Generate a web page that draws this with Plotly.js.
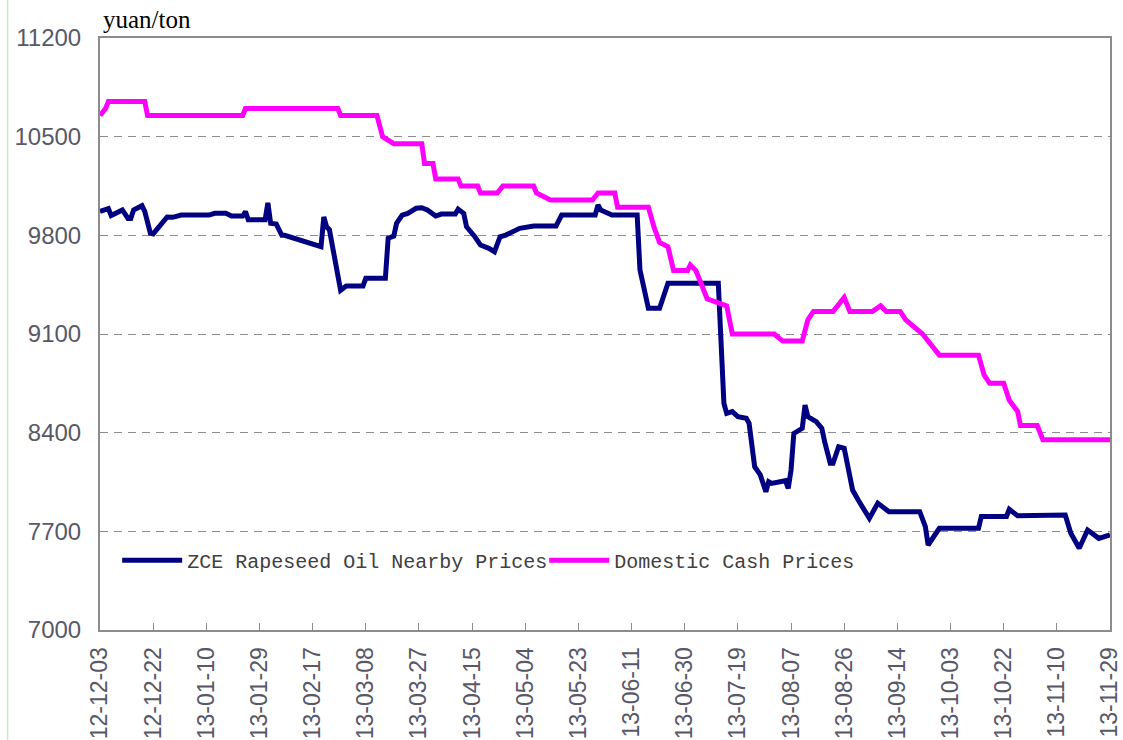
<!DOCTYPE html>
<html>
<head>
<meta charset="utf-8">
<script src="https://cdn.plot.ly/plotly-3.0.1.min.js"></script>
<style>
  html, body { margin: 0; padding: 0; background: #ffffff; }
  #chart { width: 1123px; height: 740px; }
</style>
</head>
<body>
<div id="chart"></div>
<script>
// ZCE Rapeseed Oil Nearby Prices (yuan/ton)
var zceDates = [
  '2012-12-03','2012-12-06','2012-12-07','2012-12-11','2012-12-13','2012-12-14','2012-12-15','2012-12-18','2012-12-19',
  '2012-12-21','2012-12-22','2012-12-25','2012-12-27','2012-12-29','2013-01-01','2013-01-11','2013-01-13','2013-01-17',
  '2013-01-19','2013-01-23','2013-01-24','2013-01-25','2013-01-31','2013-02-01','2013-02-02','2013-02-04','2013-02-06',
  '2013-02-07','2013-02-19','2013-02-20','2013-02-21','2013-02-22','2013-02-23','2013-02-27','2013-03-01','2013-03-07',
  '2013-03-08','2013-03-15','2013-03-16','2013-03-18','2013-03-19','2013-03-21','2013-03-23','2013-03-26','2013-03-28',
  '2013-03-30','2013-04-02','2013-04-04','2013-04-09','2013-04-10','2013-04-12','2013-04-13','2013-04-16','2013-04-18',
  '2013-04-21','2013-04-23','2013-04-25','2013-04-27','2013-05-02','2013-05-07','2013-05-15','2013-05-17','2013-05-29',
  '2013-05-30','2013-05-31','2013-06-04','2013-06-13','2013-06-14','2013-06-17','2013-06-21','2013-06-24','2013-07-12',
  '2013-07-14','2013-07-15','2013-07-17','2013-07-19','2013-07-22','2013-07-23','2013-07-25','2013-07-27','2013-07-29',
  '2013-07-30','2013-07-31','2013-08-05','2013-08-06','2013-08-07','2013-08-08','2013-08-11','2013-08-12','2013-08-13',
  '2013-08-16','2013-08-18','2013-08-19','2013-08-21','2013-08-22','2013-08-24','2013-08-26','2013-08-29','2013-08-31',
  '2013-09-04','2013-09-07','2013-09-11','2013-09-22','2013-09-24','2013-09-25','2013-09-29','2013-10-13','2013-10-14',
  '2013-10-23','2013-10-24','2013-10-27','2013-11-13','2013-11-15','2013-11-18','2013-11-21','2013-11-25','2013-11-29'
];
var zcePrices = [
  9970, 9990, 9940, 9980, 9920, 9920, 9980, 10010, 9970,
  9815, 9810, 9885, 9930, 9928, 9944, 9944, 9956, 9956,
  9937, 9937, 9968, 9910, 9910, 10030, 9885, 9880, 9800,
  9800, 9720, 9720, 9930, 9860, 9840, 9410, 9440, 9440,
  9495, 9495, 9780, 9795, 9885, 9944, 9956, 9992, 9996,
  9980, 9937, 9951, 9951, 9985, 9956, 9861, 9790, 9731,
  9708, 9684, 9790, 9802, 9850, 9866, 9866, 9944, 9944,
  10015, 9980, 9944, 9944, 9554, 9282, 9282, 9460, 9460,
  8608, 8537, 8549, 8514, 8502, 8466, 8158, 8100, 7981,
  8052, 8040, 8059, 8005, 8135, 8395, 8431, 8596, 8514,
  8478, 8431, 8336, 8183, 8183, 8300, 8289, 7993, 7922,
  7792, 7900, 7839, 7839, 7733, 7603, 7721, 7721, 7805,
  7805, 7856, 7810, 7815, 7686, 7580, 7709, 7650, 7674
];

// Domestic Cash Prices (yuan/ton)
var cashDates = [
  '2012-12-03','2012-12-05','2012-12-06','2012-12-19','2012-12-20','2013-01-23','2013-01-24','2013-02-26','2013-02-27',
  '2013-03-12','2013-03-14','2013-03-18','2013-03-28','2013-03-29','2013-04-01','2013-04-02','2013-04-10','2013-04-11',
  '2013-04-17','2013-04-18','2013-04-24','2013-04-26','2013-05-07','2013-05-08','2013-05-13','2013-05-28','2013-05-30',
  '2013-06-05','2013-06-06','2013-06-17','2013-06-19','2013-06-21','2013-06-24','2013-06-26','2013-07-01','2013-07-02',
  '2013-07-04','2013-07-08','2013-07-15','2013-07-17','2013-08-01','2013-08-04','2013-08-11','2013-08-13','2013-08-15',
  '2013-08-22','2013-08-26','2013-08-28','2013-09-05','2013-09-08','2013-09-10','2013-09-15','2013-09-17','2013-09-23',
  '2013-09-25','2013-09-29','2013-10-13','2013-10-15','2013-10-17','2013-10-22','2013-10-24','2013-10-27','2013-10-28',
  '2013-11-03','2013-11-05','2013-11-29'
];
var cashPrices = [
  10650, 10700, 10750, 10750, 10650, 10650, 10700, 10700, 10650,
  10650, 10500, 10450, 10450, 10310, 10310, 10200, 10200, 10150,
  10150, 10100, 10100, 10150, 10150, 10100, 10050, 10050, 10100,
  10100, 10000, 10000, 9860, 9750, 9720, 9550, 9550, 9590,
  9550, 9350, 9300, 9100, 9100, 9050, 9050, 9200, 9260,
  9260, 9360, 9260, 9260, 9300, 9260, 9260, 9200, 9100,
  9050, 8950, 8950, 8810, 8750, 8750, 8630, 8550, 8450,
  8450, 8350, 8350
];

var xTickVals = [
  '2012-12-03','2012-12-22','2013-01-10','2013-01-29','2013-02-17','2013-03-08','2013-03-27','2013-04-15','2013-05-04',
  '2013-05-23','2013-06-11','2013-06-30','2013-07-19','2013-08-07','2013-08-26','2013-09-14','2013-10-03','2013-10-22',
  '2013-11-10','2013-11-29'
];
var yTickVals = [7000, 7700, 8400, 9100, 9800, 10500, 11200];

var traces = [
  {
    type: 'scatter', mode: 'lines', name: 'ZCE Rapeseed Oil Nearby Prices',
    x: zceDates, y: zcePrices,
    line: { color: '#000080', width: 5, shape: 'linear' }
  },
  {
    type: 'scatter', mode: 'lines', name: 'Domestic Cash Prices',
    x: cashDates, y: cashPrices,
    line: { color: '#ff00ff', width: 5, shape: 'linear' }
  }
];

var layout = {
  width: 1123, height: 740,
  margin: { l: 100, r: 13, t: 38, b: 110, pad: 0 },
  paper_bgcolor: '#ffffff', plot_bgcolor: '#ffffff',
  showlegend: true,
  legend: {
    orientation: 'h', x: 0.017, y: 0.118, xanchor: 'left', yanchor: 'middle',
    bgcolor: 'rgba(0,0,0,0)', itemwidth: 60, tracegroupgap: 0,
    entrywidth: 352, entrywidthmode: 'pixels',
    font: { family: 'Liberation Mono, DejaVu Sans Mono, monospace', size: 20, color: '#404040' }
  },
  xaxis: {
    type: 'date',
    range: ['2012-12-03', '2013-11-29'],
    tickmode: 'array', tickvals: xTickVals, tickformat: '%y-%m-%d',
    tickangle: -90,
    ticks: 'inside', ticklen: 7, tickwidth: 1, tickcolor: '#8c8c8c',
    showgrid: false, zeroline: false,
    showline: true, linecolor: '#8c8c8c', linewidth: 2, mirror: true,
    ticklabelstandoff: 6,
    tickfont: { family: 'Liberation Sans, Arial, sans-serif', size: 23, color: '#585868' }
  },
  yaxis: {
    range: [7000, 11200],
    tickmode: 'array', tickvals: yTickVals, tickformat: 'd',
    ticks: '', showgrid: true, gridcolor: '#8c8c8c', gridwidth: 1, griddash: '8px,6px',
    zeroline: false,
    showline: true, linecolor: '#8c8c8c', linewidth: 2, mirror: true,
    ticklabelstandoff: 12,
    tickfont: { family: 'Liberation Sans, Arial, sans-serif', size: 24, color: '#585868' }
  },
  annotations: [
    {
      text: 'yuan/ton', xref: 'paper', yref: 'paper', x: 0.001, y: 1.0,
      xanchor: 'left', yanchor: 'bottom', yshift: 3, showarrow: false,
      font: { family: 'Liberation Serif, Times New Roman, serif', size: 25, color: '#000000' }
    }
  ],
  shapes: [
    {
      type: 'line', xref: 'paper', yref: 'paper',
      x0: -0.0915, x1: -0.0915, y0: -0.2, y1: 1.07,
      line: { color: '#c8ecc8', width: 1.5 }
    }
  ]
};

Plotly.newPlot('chart', traces, layout, { displayModeBar: false, staticPlot: true });
</script>
</body>
</html>
